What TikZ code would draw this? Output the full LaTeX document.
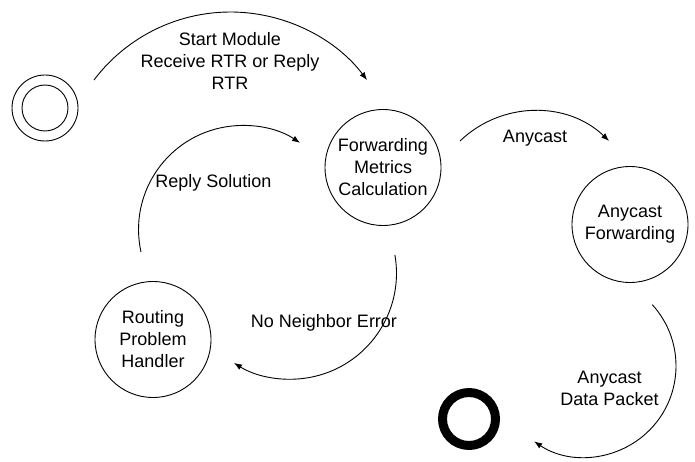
\documentclass[tikz,border=0pt]{standalone}
\usepackage{fontspec}
\setmainfont{Liberation Sans}
\usetikzlibrary{arrows.meta}
\begin{document}
\begin{tikzpicture}[x=1pt,y=1pt,
  txt/.style={font=\fontsize{18}{22}\selectfont, align=center, inner sep=0pt},
  state/.style={draw, circle, minimum size=116pt, inner sep=0pt, line width=0.9pt, txt},
  arr/.style={line width=0.9pt, -{Latex[length=8pt,width=6pt]}}]
\useasboundingbox[fill=white] (0,0) rectangle (695,461);
% states
\node[draw, circle, minimum size=66pt, inner sep=0pt, line width=0.9pt] (init) at (45,353) {};
\node[draw, circle, minimum size=46pt, inner sep=0pt, line width=0.9pt] (initin) at (45,353) {};
\node[state] (fmc) at (383,293.5) {Forwarding\\Metrics\\Calculation};
\node[state] (af) at (630,236.5) {Anycast\\Forwarding};
\node[state] (rph) at (153,121.5) {Routing\\Problem\\Handler};
\node[draw, circle, minimum size=53pt, inner sep=0pt, line width=9pt] (final) at (469,42) {};
% connectors (free arcs)
\coordinate (s1) at (93.9,380.9);
\draw[arr] (s1) arc[start angle=143, end angle=37, radius=171];
\coordinate (s2) at (460,320);
\draw[arr] (s2) arc[start angle=133.9, end angle=46.1, radius=107.5];
\coordinate (s3) at (141,209);
\draw[arr] (s3) arc[start angle=192.5, end angle=56.4, radius=104];
\coordinate (s4) at (394.9,206);
\draw[arr] (s4) arc[start angle=9.9, end angle=-122.2, radius=106];
\coordinate (s5) at (652.2,156.4);
\draw[arr] (s5) arc[start angle=42.4, end angle=-124, radius=91];
% labels
\node[txt] (l1) at (230,400.5) {Start Module\\Receive RTR or Reply\\RTR};
\node[txt] (l2) at (535,323) {Anycast};
\node[txt] (l3) at (213.5,278) {Reply Solution};
\node[txt] (l4) at (324,138) {No Neighbor Error};
\node[txt] (l5) at (609.5,73) {Anycast\\Data Packet};
\end{tikzpicture}
\end{document}
